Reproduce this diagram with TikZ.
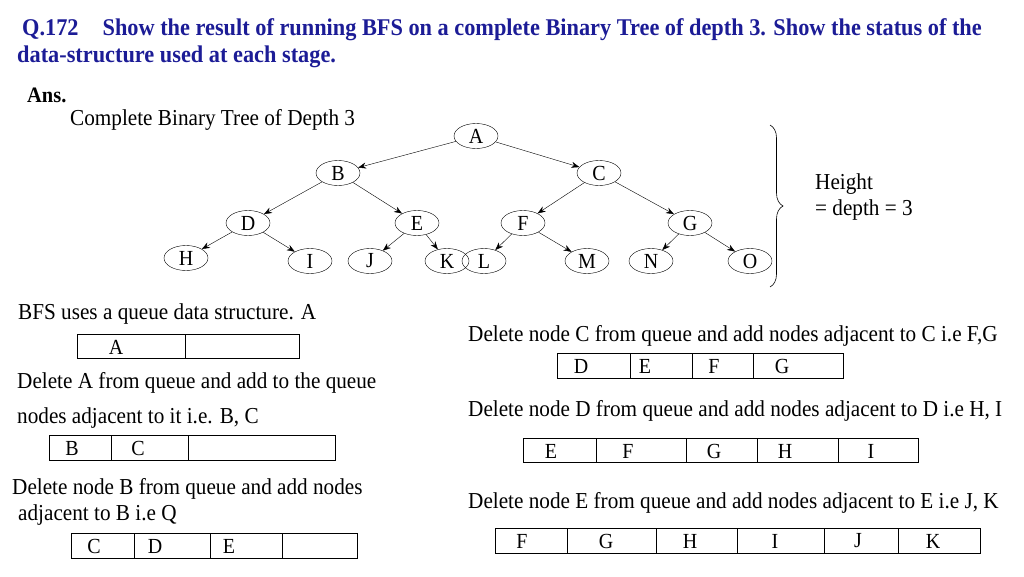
\documentclass[tikz,border=0pt]{standalone}
\usepackage{fontspec}
\setmainfont{Liberation Serif}[FakeStretch=0.93]
\usetikzlibrary{shapes.geometric,decorations.pathreplacing,arrows.meta}
\definecolor{ttl}{HTML}{1C1C96}
\begin{document}
\begin{tikzpicture}[x=1pt,y=-1pt,
  tn/.style={draw,ellipse,minimum width=44,minimum height=25,inner sep=0,font=\fontsize{21.5}{21}\selectfont},
  txt/.style={anchor=west,inner sep=0,font=\fontsize{22.8}{24}\selectfont},
  ttlt/.style={anchor=west,inner sep=0,font=\fontsize{24}{26}\selectfont\bfseries,text=ttl},
  cell/.style={anchor=center,inner sep=0,font=\fontsize{21.5}{21}\selectfont},
  ar/.style={-{Stealth[length=8pt,width=6pt]},thin}]
\useasboundingbox (0,0) rectangle (1024,576);
\node[ttlt] (t1) at (22,30) {Q.172\quad Show the result of running BFS on a complete Binary Tree of depth 3. Show the status of the};
\node[ttlt] (t2) at (17,57) {data-structure used at each stage.};
\node[txt,font=\fontsize{22}{24}\selectfont\bfseries] (ans) at (27,95) {Ans.};
\node[txt] (cap) at (70,120) {Complete Binary Tree of Depth 3};
\foreach \n/\x/\y in {A/476/136,B/338/173,C/599/173,D/248/223,E/417/223,F/523/223,G/690/223,H/186/258,I/310/261,J/370/261,K/447/261,L/484/261,M/587/261,N/651/261,O/750/261}
  \node[tn] (\n) at (\x,\y) {\n};
\foreach \a/\b in {A/B,A/C,B/D,B/E,C/F,C/G,D/H,D/I,E/J,E/K,F/L,F/M,G/N,G/O}
  \draw[ar] (\a) -- (\b);
\coordinate (br1) at (770,125); \coordinate (br2) at (770,287);
\draw[semithick,decorate,decoration={brace,amplitude=13pt}] (br1) -- (br2);
\node[txt] (h1) at (815,184) {Height};
\node[txt] (h2) at (815,210) {= depth = 3};
% left column
\node[txt] (s1) at (18,314) {BFS uses a queue data structure. A};
\draw (77,334) rectangle (299,358); \draw (185,334)--(185,358);
\node[cell] (q1a) at (116,347) {A};
\node[txt] (s2) at (17,383) {Delete A from queue and add to the queue};
\node[txt] (s2b) at (17,418) {nodes adjacent to it i.e. B, C};
\draw (49,435) rectangle (335,460); \foreach \x in {111,188} \draw (\x,435)--(\x,460);
\node[cell] (q2a) at (72,448) {B}; \node[cell] (q2b) at (138,448) {C};
\node[txt] (s3) at (12,489) {Delete node B from queue and add nodes};
\node[txt] (s3b) at (18,515) {adjacent to B i.e Q};
\draw (71,533) rectangle (357,558); \foreach \x in {134,210,282} \draw (\x,533)--(\x,558);
\node[cell] (q3a) at (94,546) {C}; \node[cell] (q3b) at (155,546) {D}; \node[cell] (q3c) at (229,546) {E};
% right column
\node[txt] (s4) at (468,336) {Delete node C from queue and add nodes adjacent to C i.e F,G};
\draw (557,353) rectangle (843,378); \foreach \x in {630,692,753} \draw (\x,353)--(\x,378);
\foreach \l/\x in {D/581,E/645,F/714,G/782} \node[cell] (q4\l) at (\x,366) {\l};
\node[txt] (s5) at (468,411) {Delete node D from queue and add nodes adjacent to D i.e H, I};
\draw (523,438) rectangle (918,462); \foreach \x in {596,686,757,838} \draw (\x,438)--(\x,462);
\foreach \l/\x in {E/551,F/628,G/714,H/785,I/871} \node[cell] (q5\l) at (\x,451) {\l};
\node[txt] (s6) at (468,503) {Delete node E from queue and add nodes adjacent to E i.e J, K};
\draw (495,528) rectangle (980,553); \foreach \x in {567,656,737,824,898} \draw (\x,528)--(\x,553);
\foreach \l/\x in {F/522,G/606,H/690,I/775,J/858,K/933} \node[cell] (q6\l) at (\x,541) {\l};
\end{tikzpicture}
\end{document}
